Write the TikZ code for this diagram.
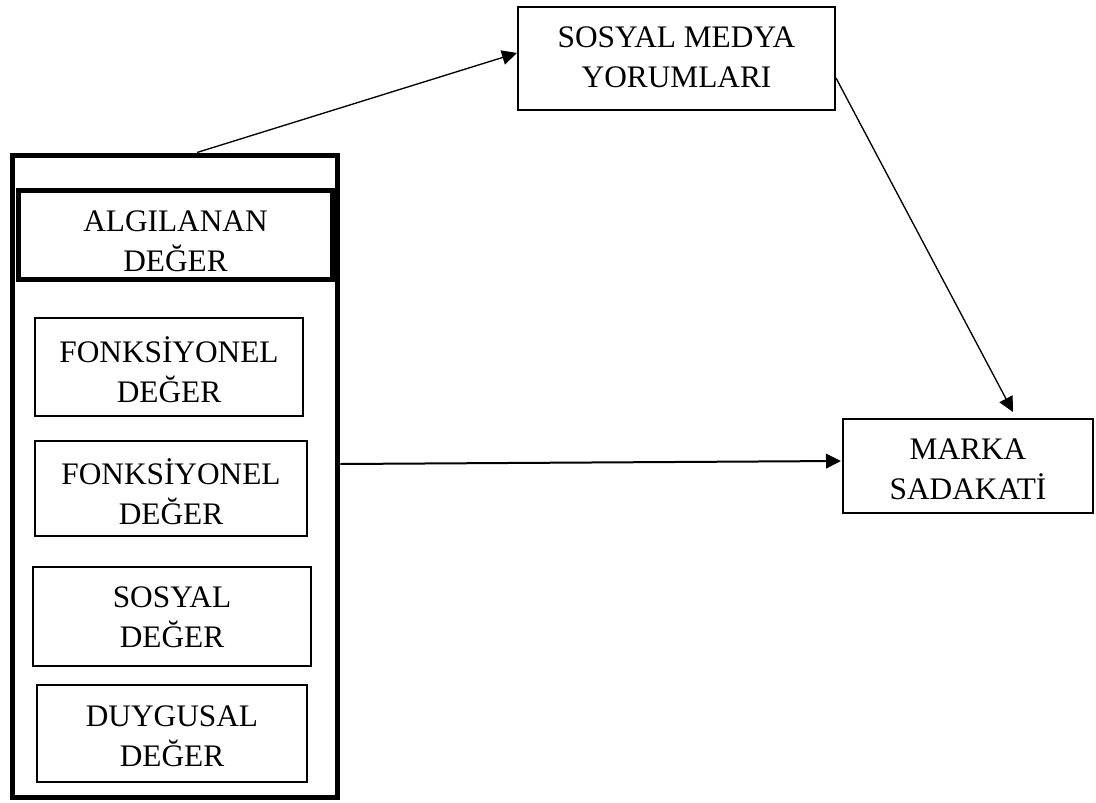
\documentclass[tikz,border=0pt]{standalone}
\usepackage{fontspec}
\setmainfont{Liberation Serif}
\usetikzlibrary{arrows.meta}
\begin{document}
\begin{tikzpicture}[x=0.75pt,y=-0.75pt,
  box/.style={draw, line width=1.5pt, rectangle, inner sep=0pt},
  heavybox/.style={draw, line width=3.75pt, rectangle, inner sep=0pt},
  lbl/.style={align=center, inner sep=0pt, font=\fontsize{23.5pt}{30pt}\selectfont},
  link/.style={line width=1pt, -{Triangle[length=11.25pt,width=11pt]}}]
  \useasboundingbox (0,0) rectangle (1096,803);

  % container for the perceived-value dimensions
  \node[heavybox, minimum width=244.1pt, minimum height=481.5pt] (outer) at (175.25,476) {};
  \node[heavybox, minimum width=235.5pt, minimum height=66.75pt] (alg) at (175.5,234.5) {};
  \node[lbl] (algt) at (175.5,241) {ALGILANAN\\DEĞER};

  \node[box, minimum width=201pt, minimum height=73.5pt] (fonk1) at (169,367) {};
  \node[lbl] (fonk1t) at (169,370) {FONKSİYONEL\\DEĞER};

  \node[box, minimum width=204pt, minimum height=71.25pt] (fonk2) at (171,488.5) {};
  \node[lbl] (fonk2t) at (171,492) {FONKSİYONEL\\DEĞER};

  \node[box, minimum width=208.5pt, minimum height=74.25pt] (sos) at (172,616.5) {};
  \node[lbl] (sost) at (172,617.5) {SOSYAL\\DEĞER};

  \node[box, minimum width=202.5pt, minimum height=72.75pt] (duy) at (172,733.5) {};
  \node[lbl] (duyt) at (172,736) {DUYGUSAL\\DEĞER};

  % outcome boxes
  \node[box, minimum width=237.75pt, minimum height=77.25pt] (smy) at (676.5,58.5) {};
  \node[lbl] (smyt) at (676.5,57) {SOSYAL MEDYA\\YORUMLARI};

  \node[box, minimum width=187.5pt, minimum height=70.5pt] (marka) at (968,466) {};
  \node[lbl] (markat) at (968,469) {MARKA\\SADAKATİ};

  % connector end points
  \coordinate (s1) at (outer.north -| 197,0);
  \coordinate (e1) at (smy.west |- 0,53);
  \coordinate (s2) at (smy.east |- 0,78);
  \coordinate (e2) at (1013,412);
  \coordinate (s3) at (outer.east |- 0,464);
  \coordinate (e3) at (841,461);

  \draw[link] (s1) -- (e1);
  \draw[link] (s2) -- (e2);
  \draw[link, line width=1.5pt] (s3) -- (e3);
\end{tikzpicture}
\end{document}
